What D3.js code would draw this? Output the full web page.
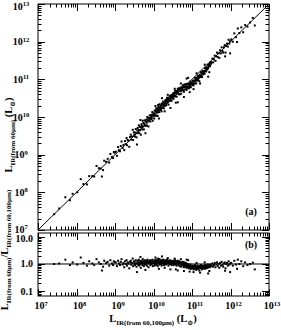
<!DOCTYPE html>
<html><head><meta charset="utf-8">
<script src="https://cdn.jsdelivr.net/npm/d3@7"></script>
<style>body{margin:0;background:#fff}svg{display:block}text{font-family:"Liberation Serif","DejaVu Serif",serif;font-weight:bold;fill:#000}</style>
</head><body><svg id="c" width="281" height="330"></svg>
<script>
// log10 of L_IR(from 60,100um) [Lsun]
const logL = [
7.42,7.55,7.71,7.83,7.90,8.02,8.11,8.18,8.27,8.33,8.41,8.46,8.52,8.58,8.63,8.69,8.72,8.77,8.81,8.85,8.88,8.92,8.95,8.97,8.99,8.66,
9.02,9.05,9.08,9.10,9.13,9.15,9.17,9.20,9.22,9.24,9.26,9.28,9.30,9.31,9.33,9.35,9.37,9.39,9.41,9.42,9.44,9.46,9.47,9.49,9.50,
9.51,9.52,9.54,9.55,9.56,9.58,9.59,9.60,9.61,9.62,9.63,9.64,9.65,9.66,9.67,9.68,9.69,9.70,9.71,9.72,9.73,9.74,9.75,9.76,9.77,9.78,9.79,9.80,9.81,9.82,9.83,9.84,9.85,9.86,9.87,9.88,9.89,9.90,9.91,9.92,9.93,9.94,9.95,9.96,9.97,9.98,9.99,9.57,9.66,9.79,
10.00,10.01,10.02,10.03,10.03,10.04,10.05,10.06,10.07,10.07,10.08,10.09,10.10,10.11,10.11,10.12,10.13,10.14,10.15,10.15,10.16,10.17,10.18,10.19,10.19,10.20,10.21,10.22,10.23,10.23,10.24,10.25,10.26,10.27,10.27,10.28,10.29,10.30,10.31,10.31,10.32,10.33,10.34,10.35,10.35,10.36,10.37,10.38,10.39,10.39,10.40,10.41,10.42,10.43,10.43,10.44,10.45,10.46,10.47,10.47,10.48,10.49,10.50,10.05,10.14,10.22,10.29,10.37,10.44,10.12,
10.50,10.51,10.52,10.52,10.53,10.54,10.55,10.56,10.56,10.57,10.58,10.59,10.60,10.60,10.61,10.62,10.63,10.64,10.64,10.65,10.66,10.67,10.68,10.68,10.69,10.70,10.71,10.72,10.72,10.73,10.74,10.75,10.76,10.76,10.77,10.78,10.79,10.80,10.80,10.81,10.82,10.83,10.84,10.84,10.85,10.86,10.87,10.88,10.88,10.89,10.90,10.91,10.92,10.92,10.93,10.94,10.95,10.96,10.96,10.97,10.98,10.99,10.55,10.63,10.71,10.79,10.86,10.94,10.58,10.90,
11.00,11.01,11.02,11.03,11.04,11.05,11.06,11.07,11.08,11.09,11.10,11.11,11.12,11.13,11.14,11.15,11.16,11.17,11.18,11.19,11.20,11.21,11.22,11.23,11.24,11.25,11.26,11.27,11.28,11.29,11.30,11.31,11.32,11.33,11.34,11.35,11.36,11.37,11.38,11.39,11.40,11.41,11.42,11.43,11.44,11.45,11.46,11.47,11.48,11.49,11.04,11.12,11.21,11.33,11.45,
11.51,11.53,11.55,11.57,11.59,11.61,11.63,11.65,11.67,11.69,11.71,11.73,11.75,11.77,11.79,11.81,11.83,11.85,11.87,11.89,11.91,11.93,11.95,11.97,11.99,
12.02,12.06,12.10,12.14,12.19,12.23,12.28,12.33,12.38,12.44,12.51,12.17,
12.63,12.58,11.99,11.86,11.42
];
// log10 of ratio L_IR(from 60um) / L_IR(from 60,100um)
const logRatio = [
0.00,0.02,0.16,-0.04,0.06,-0.02,0.24,0.04,-0.06,0.10,0.02,-0.04,0.18,0.06,0.00,-0.10,0.12,0.04,0.08,-0.06,0.14,0.02,-0.04,0.10,0.06,-0.24,
0.06,-0.08,0.12,0.02,-0.04,0.08,0.18,-0.02,0.04,-0.12,0.10,0.00,0.14,-0.06,0.06,0.02,-0.16,0.08,0.12,-0.02,0.04,0.20,-0.08,0.10,0.02,
0.08,-0.04,0.14,0.02,-0.10,0.06,0.12,-0.02,0.04,0.16,-0.06,0.10,0.00,0.08,-0.14,0.04,0.12,0.06,-0.04,0.18,0.02,0.10,-0.08,0.06,0.14,0.00,-0.02,0.08,0.12,0.04,-0.06,0.16,0.06,0.10,-0.12,0.02,0.08,0.14,0.04,-0.04,0.12,0.06,0.00,0.10,0.16,-0.08,0.04,-0.30,0.26,-0.22,
0.10,0.04,-0.06,0.14,0.06,0.00,0.12,0.08,-0.04,0.16,0.06,0.10,0.02,0.12,-0.08,0.06,0.14,0.04,0.08,-0.02,0.18,0.06,0.10,0.00,0.12,0.04,-0.06,0.14,0.08,0.02,0.10,0.16,0.04,-0.04,0.12,0.06,0.08,0.00,0.14,0.10,0.04,-0.02,0.12,0.06,0.16,0.08,0.02,0.10,-0.06,0.12,0.04,0.08,0.14,0.00,0.06,0.10,0.04,0.12,-0.04,0.08,0.06,0.02,0.10,0.24,-0.18,0.28,-0.14,0.22,-0.20,0.20,
0.08,0.02,0.12,-0.04,0.06,0.10,0.00,0.08,0.14,-0.02,0.04,0.10,0.06,-0.06,0.08,0.02,0.12,0.00,0.06,-0.04,0.10,0.04,-0.08,0.06,0.02,0.08,-0.02,0.04,-0.10,0.06,0.00,-0.04,0.08,0.02,-0.06,0.04,-0.12,0.00,0.06,-0.08,-0.02,0.04,-0.10,-0.04,0.02,-0.14,-0.06,0.00,-0.08,-0.12,-0.02,-0.10,-0.16,-0.04,-0.08,-0.14,-0.06,-0.12,-0.02,-0.18,-0.10,-0.08,0.20,-0.24,0.18,-0.26,0.16,-0.28,-0.20,0.14,
-0.10,-0.16,-0.06,-0.14,-0.20,-0.08,-0.12,-0.18,-0.04,-0.14,-0.10,-0.22,-0.08,-0.16,-0.12,-0.06,-0.18,-0.10,-0.14,-0.24,-0.08,-0.12,-0.16,-0.04,-0.14,-0.10,-0.20,-0.06,-0.12,-0.16,-0.08,-0.14,-0.10,-0.18,-0.04,-0.12,-0.08,-0.16,-0.06,-0.10,-0.14,-0.02,-0.12,-0.08,-0.06,-0.10,-0.04,-0.12,-0.02,-0.08,-0.30,0.04,-0.32,0.06,-0.26,
-0.06,0.02,-0.10,-0.04,0.04,-0.12,-0.02,0.06,-0.08,0.00,-0.14,0.04,-0.06,0.08,-0.04,-0.10,0.02,0.06,-0.16,0.00,0.04,-0.06,0.10,-0.02,0.02,
0.04,-0.06,0.12,-0.02,0.16,0.00,0.10,-0.08,0.06,-0.04,0.00,-0.18,
-0.20,0.05,-0.30,-0.25,-0.35
];
const xTicks = [7,8,9,10,11,12,13];
const yTopTicks = [7,8,9,10,11,12,13];
const ratioTicks = [0.1,1,10];
const ratioTickLabels = ["0.1","1.0","10.0"];

const svg = d3.select("#c");
const x = d3.scaleLog().domain([1e7,1e13]).range([38,269]);
const yT = d3.scaleLog().domain([1e7,1e13]).range([230,4]);
const yB = d3.scaleLog().domain([0.0653,14.06]).range([296,233]);

const pts = logL.map((l,i)=>({L:Math.pow(10,l), R:Math.pow(10,logRatio[i])}));

function minors(lo,hi){const a=[];for(let e=Math.floor(Math.log10(lo));e<=Math.ceil(Math.log10(hi));e++){for(let m=1;m<10;m++){const v=m*Math.pow(10,e);if(v>=lo*0.999&&v<=hi*1.001)a.push({v,major:m===1});}}return a;}

function frame(ys, y0, y1){
  const g = svg.append("g").attr("stroke","#000").attr("stroke-width",1).attr("fill","none");
  g.append("rect").attr("x",x.range()[0]).attr("y",y1).attr("width",x.range()[1]-x.range()[0]).attr("height",y0-y1);
  const xm = minors(1e7,1e13);
  xm.forEach(t=>{const px=Math.round(x(t.v))+0.5;const len=t.major?7:3.5;
    g.append("line").attr("x1",px).attr("x2",px).attr("y1",y0).attr("y2",y0-len);
    g.append("line").attr("x1",px).attr("x2",px).attr("y1",y1).attr("y2",y1+len);});
  const d=ys.domain();const ym=minors(d[0],d[1]);
  ym.forEach(t=>{const py=Math.round(ys(t.v))+0.5;const len=t.major?7:3.5;
    g.append("line").attr("x1",x.range()[0]).attr("x2",x.range()[0]+len).attr("y1",py).attr("y2",py);
    g.append("line").attr("x1",x.range()[1]).attr("x2",x.range()[1]-len).attr("y1",py).attr("y2",py);});
}

const S = 2.0;
// top panel
frame(yT,230,4);
svg.append("line").attr("x1",x(1e7)).attr("y1",yT(1e7)).attr("x2",x(1e13)).attr("y2",yT(1e13)).attr("stroke","#000").attr("stroke-width",1);
svg.append("g").selectAll("rect").data(pts).join("rect")
  .attr("x",d=>x(d.L)-S/2).attr("y",d=>yT(d.L*d.R)-S/2).attr("width",S).attr("height",S).attr("fill","#000");

// bottom panel
frame(yB,296,233);
svg.append("line").attr("x1",x(1e7)).attr("y1",yB(1)).attr("x2",x(1e13)).attr("y2",yB(1)).attr("stroke","#000").attr("stroke-width",1);
svg.append("g").selectAll("rect").data(pts).join("rect")
  .attr("x",d=>x(d.L)-S/2).attr("y",d=>yB(d.R)-S/2).attr("width",S).attr("height",S).attr("fill","#000");

// tick labels
function pow(sel, e){sel.append("tspan").text("10");sel.append("tspan").attr("dy",-3.5).attr("font-size",6.5).text(e);}
yTopTicks.forEach(e=>{const py=yT(Math.pow(10,e))+3.5+(e===13?2:0)+(e===7?-1:0);const t=svg.append("text").attr("x",21).attr("y",py).attr("font-size",10).attr("text-anchor","middle");pow(t,e);});
ratioTicks.forEach((v,i)=>{svg.append("text").attr("x",33).attr("y",yB(v)+3.5+(v===10?1.5:0)).attr("font-size",10).attr("text-anchor","end").text(ratioTickLabels[i]);});
xTicks.forEach(e=>{const t=svg.append("text").attr("x",x(Math.pow(10,e))+3).attr("y",309).attr("font-size",10).attr("text-anchor","middle");pow(t,e);});

// axis titles
function title(tf, parts){const t=svg.append("text").attr("font-size",10.5).attr("text-anchor","middle").attr("transform",tf);
  parts.forEach(p=>{if(p[1])t.append("tspan").attr("dy",2.5).attr("font-size",7).text(p[0]);else t.append("tspan").attr("dy",p[2]||0).text(p[0]);});}
title("translate(153,322)",[["L"],["IR(from 60,100μm)",1],[" (L",0,-2.5],["⊙",1],[")",0,-2.5]]);
title("translate(12,135) rotate(-90)",[["L"],["IR(from 60μm)",1],[" (L",0,-2.5],["⊙",1],[")",0,-2.5]]);
title("translate(8,250) rotate(-90)",[["L"],["IR(from 60μm)",1],["/L",0,-2.5],["IR(from 60,100μm)",1]]);

svg.append("text").attr("x",251).attr("y",215).attr("font-size",10).attr("text-anchor","middle").text("(a)");
svg.append("text").attr("x",251).attr("y",248).attr("font-size",10).attr("text-anchor","middle").text("(b)");
</script></body></html>
